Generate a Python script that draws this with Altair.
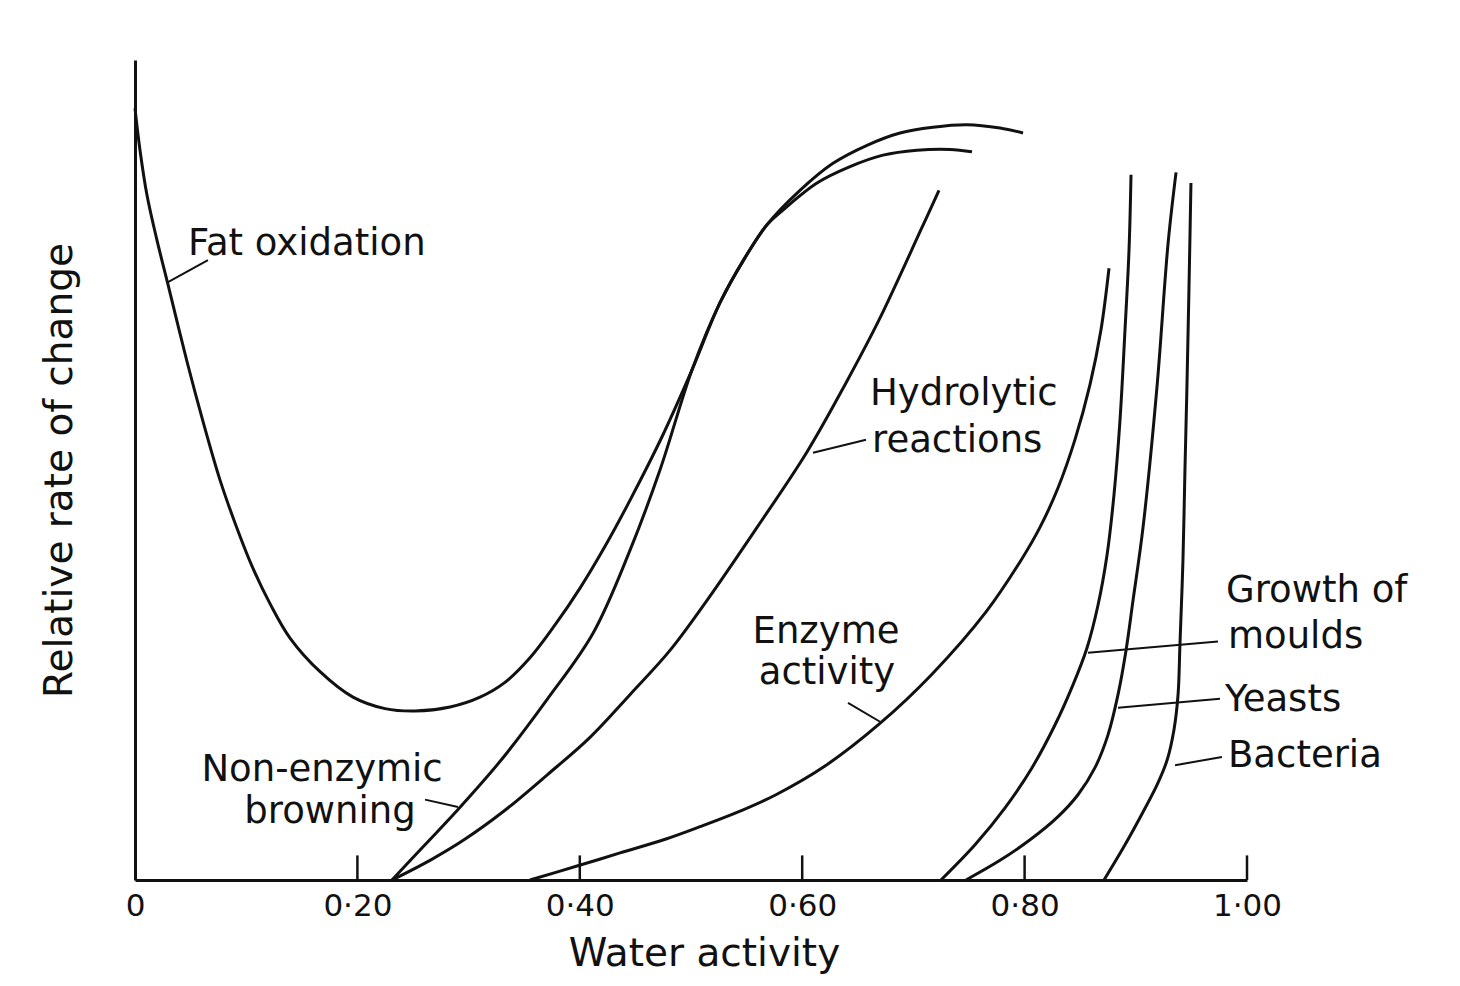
import altair as alt
import pandas as pd

# ---------------- data (x = water activity, y = relative rate, 0-100) -------------
fat_x = [0.0, 0.0045, 0.0108, 0.0198, 0.0297, 0.0468, 0.0612, 0.0764, 0.0917, 0.1061,
         0.1214, 0.1394, 0.1664, 0.1960, 0.2248, 0.2518, 0.2833, 0.3103, 0.3327, 0.3552,
         0.3777, 0.4002, 0.4227, 0.4451, 0.4748, 0.5009, 0.5261, 0.5486, 0.5683, 0.5980,
         0.6277, 0.6583, 0.6880, 0.7176, 0.7482, 0.7779, 0.7986]
fat_y = [94.1, 89.0, 83.5, 78.0, 72.6, 63.2, 55.9, 48.8, 42.9, 38.0,
         33.7, 29.5, 25.4, 22.3, 20.9, 20.6, 21.1, 22.3, 24.1, 27.1,
         31.1, 35.6, 40.7, 46.3, 54.3, 62.2, 70.4, 75.9, 79.9, 84.1,
         87.4, 89.6, 91.1, 91.8, 92.1, 91.7, 91.1]

brown_x = [0.2311, 0.2608, 0.2878, 0.3291, 0.3705, 0.4119, 0.4451, 0.4721, 0.5009,
           0.5261, 0.5486, 0.5683, 0.5827, 0.6133, 0.6430, 0.6727, 0.7032, 0.7329, 0.7527]
brown_y = [0.0, 4.3, 8.2, 14.6, 22.0, 30.1, 40.2, 50.0, 62.2,
           70.4, 75.9, 79.9, 81.7, 85.0, 87.0, 88.4, 89.0, 89.1, 88.8]

hydro_x = [0.2311, 0.2653, 0.2959, 0.3327, 0.3705, 0.4092, 0.4451, 0.4811, 0.5144,
           0.5594, 0.6043, 0.6385, 0.6691, 0.7068, 0.7230]
hydro_y = [0.0, 2.4, 4.9, 8.5, 12.8, 17.4, 22.6, 28.0, 34.1,
           43.0, 52.2, 60.4, 68.3, 79.3, 84.1]

enzyme_x = [0.3552, 0.3975, 0.4362, 0.4775, 0.5081, 0.5441, 0.5764, 0.6205, 0.6691,
            0.7167, 0.7653, 0.7968, 0.8138, 0.8300, 0.8453, 0.8588, 0.8687, 0.8759]
enzyme_y = [0.0, 1.7, 3.3, 5.0, 6.5, 8.4, 10.4, 13.9, 19.0,
            25.1, 32.7, 39.0, 43.0, 47.8, 53.7, 60.4, 67.1, 74.6]

moulds_x = [0.7248, 0.7554, 0.7824, 0.8067, 0.8273, 0.8435, 0.8561, 0.8660, 0.8741,
            0.8804, 0.8858, 0.8903, 0.8939, 0.8957]
moulds_y = [0.0, 4.3, 8.8, 13.7, 18.9, 23.8, 28.3, 33.5, 39.6,
            47.0, 56.1, 67.1, 76.8, 86.0]

yeasts_x = [0.7473, 0.7779, 0.8049, 0.8291, 0.8480, 0.8633, 0.8750, 0.8840, 0.8912,
            0.8975, 0.9065, 0.9191, 0.9290, 0.9362]
yeasts_y = [0.0, 2.4, 4.9, 7.6, 10.4, 13.7, 17.7, 22.6, 28.0,
            34.1, 43.0, 60.2, 77.6, 86.3]

bact_x = [0.8714, 0.8903, 0.9065, 0.9191, 0.9281, 0.9343, 0.9380, 0.9397, 0.9424,
          0.9442, 0.9460, 0.9478, 0.9496]
bact_y = [0.0, 4.3, 8.3, 11.6, 14.6, 18.3, 22.6, 28.7, 39.0,
          50.0, 60.2, 72.0, 85.0]

tick_values = [0.2, 0.4, 0.6, 0.8, 1.0]

label_text = ["Fat oxidation", "Hydrolytic", "reactions", "Enzyme", "activity",
              "Non-enzymic", "browning", "Growth of", "moulds", "Yeasts", "Bacteria"]
label_x = [0.0477, 0.661, 0.6628, 0.6214, 0.6223, 0.1682, 0.1754, 0.9811, 0.9829, 0.9802, 0.9829]
label_y = [76.2, 57.9, 52.2, 28.9, 23.9, 12.1, 7.0, 33.9, 28.3, 20.6, 13.8]
label_align = ["left", "left", "left", "center", "center", "center", "center",
               "left", "left", "left", "left"]

leader_x1 = [0.0297, 0.6097, 0.6412, 0.2608, 0.8570, 0.8840, 0.9353]
leader_y1 = [72.9, 52.1, 21.6, 9.8, 27.7, 21.0, 14.0]
leader_x2 = [0.0656, 0.6574, 0.6700, 0.2905, 0.9739, 0.9757, 0.9775]
leader_y2 = [75.6, 53.7, 19.3, 8.9, 29.1, 22.1, 15.0]

# ---------------- build tables ----------------
series = [("Fat oxidation", fat_x, fat_y), ("Non-enzymic browning", brown_x, brown_y),
          ("Hydrolytic reactions", hydro_x, hydro_y), ("Enzyme activity", enzyme_x, enzyme_y),
          ("Moulds", moulds_x, moulds_y), ("Yeasts", yeasts_x, yeasts_y),
          ("Bacteria", bact_x, bact_y)]
rows = []
for name, xs, ys in series:
    for i, (xv, yv) in enumerate(zip(xs, ys)):
        rows.append({"series": name, "x": xv, "y": yv, "i": i})
curves = pd.DataFrame(rows)

labels = pd.DataFrame({"text": label_text, "x": label_x, "y": label_y, "align": label_align})
leaders = pd.DataFrame({"x": leader_x1, "y": leader_y1, "x2": leader_x2, "y2": leader_y2})
ticks = pd.DataFrame({"x": tick_values, "y": [0] * len(tick_values), "y2": [3] * len(tick_values)})

FONT = "DejaVu Sans"

xscale = alt.Scale(domain=[0, 1.0], nice=False, zero=False)
yscale = alt.Scale(domain=[0, 100], nice=False)

xaxis = alt.Axis(values=tick_values + [0], ticks=False, grid=False, domain=True,
                 domainColor="#111", domainWidth=3,
                 labelExpr="datum.value == 0 ? '0' : replace(format(datum.value, '.2f'), '.', '·')",
                 labelFont=FONT, labelFontSize=31, labelColor="#111", labelPadding=11,
                 labelFlush=False, labelOverlap=False,
                 title="Water activity", titleFont=FONT, titleFontSize=39, titleFontWeight="normal",
                 titleColor="#111", titlePadding=13, titleX=569)
yaxis = alt.Axis(ticks=False, labels=False, grid=False, domain=True,
                 domainColor="#111", domainWidth=3,
                 title="Relative rate of change", titleFont=FONT, titleFontSize=39,
                 titleFontWeight="normal", titleColor="#111", titlePadding=56)

lines = alt.Chart(curves).mark_line(color="#111", strokeWidth=3, interpolate="catmull-rom").encode(
    x=alt.X("x:Q", scale=xscale, axis=xaxis),
    y=alt.Y("y:Q", scale=yscale, axis=yaxis),
    detail="series:N",
    order="i:Q",
)

tick_marks = alt.Chart(ticks).mark_rule(color="#111", strokeWidth=2.5).encode(
    x="x:Q", y="y:Q", y2="y2:Q")

leader_marks = alt.Chart(leaders).mark_rule(color="#111", strokeWidth=2).encode(
    x="x:Q", y="y:Q", x2="x2:Q", y2="y2:Q")

text_left = alt.Chart(labels).transform_filter("datum.align == 'left'").mark_text(
    align="left", baseline="alphabetic", font=FONT, fontSize=37, color="#111").encode(
    x="x:Q", y="y:Q", text="text:N")
text_center = alt.Chart(labels).transform_filter("datum.align == 'center'").mark_text(
    align="center", baseline="alphabetic", font=FONT, fontSize=37, color="#111").encode(
    x="x:Q", y="y:Q", text="text:N")

chart = alt.layer(lines, tick_marks, leader_marks, text_left, text_center).properties(
    width=1112, height=820,
    autosize=alt.AutoSizeParams(type="none"),
    padding={"left": 127, "top": 52, "right": 205, "bottom": 98},
    background="white",
).configure_view(stroke=None)

chart.save("out.html", embed_options={"renderer": "svg", "actions": False})
